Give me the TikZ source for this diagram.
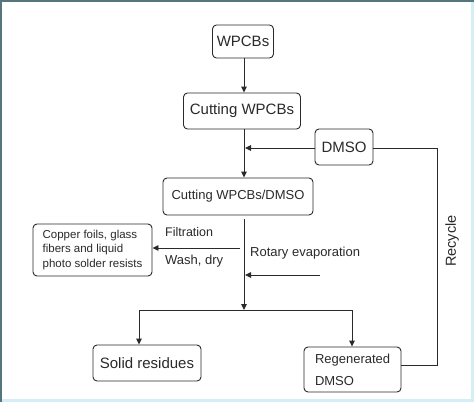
\documentclass[tikz,border=0pt]{standalone}
\usepackage{fontspec}
\setmainfont{Liberation Sans}
\usetikzlibrary{arrows.meta,calc}
\definecolor{ink}{HTML}{2A2A2A}
\definecolor{frameDark}{HTML}{56767E}
\definecolor{frameLight}{HTML}{D3EEF4}
\tikzset{
  box/.style={draw=ink, line width=0.9pt, rounded corners=4pt, inner sep=0pt, anchor=center, text=ink},
  conn/.style={draw=ink, line width=0.9pt},
  arr/.style={conn, -{Triangle[length=6pt,width=5.5pt]}},
  lbl/.style={text=ink, inner sep=0pt, anchor=west}
}
\begin{document}
\begin{tikzpicture}[x=1pt,y=-1pt]
\useasboundingbox (0,0) rectangle (474,402);
\fill[frameLight] (0,0) rectangle (474,402);
\fill[white] (2,2) rectangle (471,399);
\fill[frameDark] (0,0) rectangle (474,2);
\fill[frameDark] (0,0) rectangle (2,402);

\node[box, minimum width=61pt, minimum height=33pt, font=\fontsize{15}{18}\selectfont] (wp) at (243,41.5) {WPCBs};
\node[box, minimum width=117pt, minimum height=36pt, font=\fontsize{15}{18}\selectfont] (cut) at (242,111) {Cutting WPCBs};
\node[box, minimum width=58pt, minimum height=36pt, font=\fontsize{15}{18}\selectfont] (dmso) at (344,147) {DMSO};
\node[box, minimum width=150pt, minimum height=37pt, font=\fontsize{13}{16}\selectfont] (mix) at (238,196.5) {Cutting WPCBs/DMSO};
\node[box, minimum width=119pt, minimum height=52pt, align=left, font=\fontsize{11.5}{14.5}\selectfont] (cu) at (92.5,250) {Copper foils, glass\\fibers and liquid\\photo solder resists};
\node[box, minimum width=108pt, minimum height=36pt, font=\fontsize{15}{18}\selectfont] (solid) at (147,363) {Solid residues};
\node[box, minimum width=97pt, minimum height=45pt, font=\fontsize{13}{22}\selectfont, align=left, text width=75pt, inner xsep=11pt] (regen) at (352.5,369.5) {Regenerated\\DMSO};

\coordinate (top) at (244,58);
\coordinate (j1) at (245,148);
\coordinate (mstart) at (244,219);
\coordinate (branch) at (244,310);
\coordinate (fstart) at (240,248);
\coordinate (rstart) at (320,275);
\coordinate (rend) at (245,275);
\coordinate (bl) at (139,310);
\coordinate (br) at (352,310);
\coordinate (rc1) at (437,365);
\coordinate (rc2) at (437,148);

\draw[arr] (top) -- (top |- cut.north);
\draw[arr] (top |- cut.south) -- (top |- mix.north);
\draw[arr] (dmso.west |- j1) -- (j1);
\draw[arr] (mstart) -- (branch);
\draw[arr] (fstart) -- (cu.east |- fstart);
\draw[arr] (rstart) -- (rend);
\draw[conn] (bl) -- (br);
\draw[arr] (bl) -- (bl |- solid.north);
\draw[arr] (br) -- (br |- regen.north);
\draw[conn] (regen.east |- rc1) -- (rc1) -- (rc2) -- (dmso.east |- rc2);

\node[lbl, font=\fontsize{12.5}{15}\selectfont] (filt) at (165,232) {Filtration};
\node[lbl, font=\fontsize{13}{15}\selectfont] (wash) at (165,261) {Wash, dry};
\node[lbl, font=\fontsize{13}{15}\selectfont] (rot) at (250,253) {Rotary evaporation};
\node[text=ink, inner sep=0pt, rotate=90, font=\fontsize{14.5}{17}\selectfont] (rec) at (452,241) {Recycle};
\end{tikzpicture}
\end{document}
